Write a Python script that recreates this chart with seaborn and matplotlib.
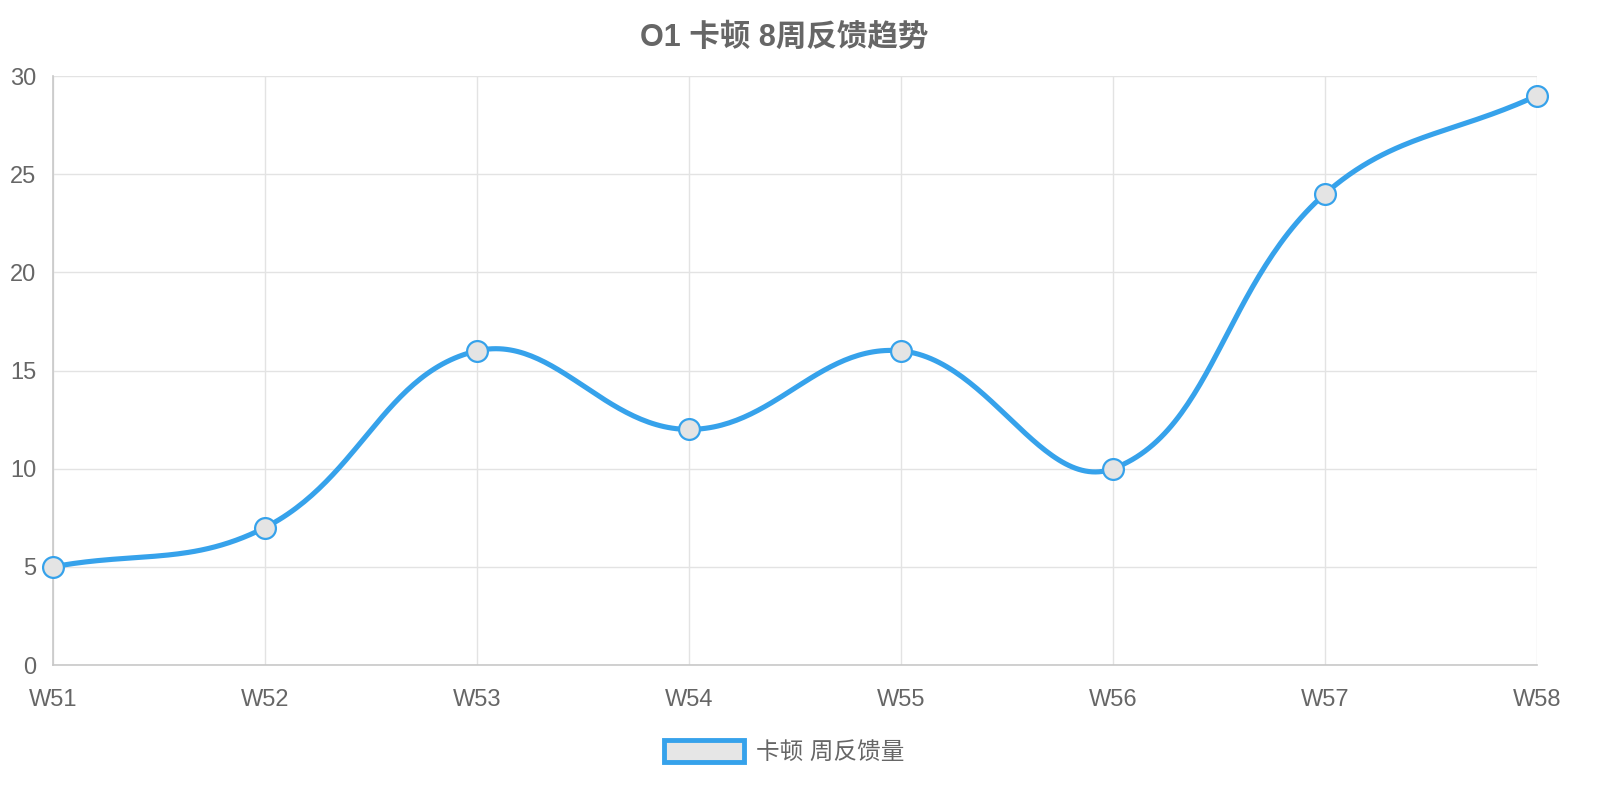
import numpy as np
import pandas as pd
import matplotlib
matplotlib.use("Agg")
import matplotlib.pyplot as plt
import seaborn as sns
from matplotlib.patches import Patch

# data
weeks = ["W51", "W52", "W53", "W54", "W55", "W56", "W57", "W58"]
feedback = [5, 7, 16, 12, 16, 10, 24, 29]
title = "O1 卡顿 8周反馈趋势"
series_label = "卡顿 周反馈量"

sns.set_theme(style="white")
fonts = ["Liberation Sans", "Noto Sans CJK SC", "DejaVu Sans"]
plt.rcParams["font.family"] = fonts

blue = "#36a2eb"
grey_text = "#666666"

fig = plt.figure(figsize=(16, 8), dpi=100)
ax = fig.add_axes([53 / 1600, 1 - 665 / 800, 1484 / 1600, 589 / 800])
ax.set_xlim(0, len(weeks) - 1)
ax.set_ylim(0, 30)

# smooth line like chart.js (tension 0.4), computed in pixel space
px_x = 1484 / (len(weeks) - 1)
px_y = 589 / 30
xs = np.arange(len(weeks)) * px_x
ys = np.array(feedback, dtype=float) * px_y
t = 0.4
cp_prev, cp_next = [], []
for i in range(len(xs)):
    p0 = np.array([xs[max(i - 1, 0)], ys[max(i - 1, 0)]])
    p1 = np.array([xs[i], ys[i]])
    p2 = np.array([xs[min(i + 1, len(xs) - 1)], ys[min(i + 1, len(xs) - 1)]])
    d01 = np.hypot(*(p1 - p0))
    d12 = np.hypot(*(p2 - p1))
    tot = d01 + d12
    s01 = d01 / tot if tot else 0
    s12 = d12 / tot if tot else 0
    cp_prev.append(p1 - t * s01 * (p2 - p0))
    cp_next.append(p1 + t * s12 * (p2 - p0))

curve = []
u = np.linspace(0, 1, 60)[:, None]
for i in range(len(xs) - 1):
    a = np.array([xs[i], ys[i]])
    b = cp_next[i]
    c = cp_prev[i + 1]
    d = np.array([xs[i + 1], ys[i + 1]])
    seg = (1 - u) ** 3 * a + 3 * (1 - u) ** 2 * u * b + 3 * (1 - u) * u ** 2 * c + u ** 3 * d
    curve.append(seg)
curve = np.vstack(curve)
curve_df = pd.DataFrame({"x": curve[:, 0] / px_x, "y": curve[:, 1] / px_y})

sns.lineplot(data=curve_df, x="x", y="y", sort=False, estimator=None,
             color=blue, linewidth=3.7, ax=ax, zorder=3)

pts = pd.DataFrame({"x": np.arange(len(weeks)), "y": feedback})
sns.scatterplot(data=pts, x="x", y="y", s=225, color="#e4e4e4",
                edgecolor=blue, linewidth=1.6, ax=ax, zorder=4, clip_on=False)

# grid and axes styling
ax.set_xticks(range(len(weeks)))
ax.set_xticklabels(weeks)
ax.set_yticks(range(0, 31, 5))
ax.grid(True, color="#e3e3e3", linewidth=1)
ax.set_axisbelow(True)
for side in ["top", "right"]:
    ax.spines[side].set_visible(False)
for side in ["left", "bottom"]:
    ax.spines[side].set_color("#c8c8c8")
    ax.spines[side].set_linewidth(1.2)
ax.tick_params(axis="both", length=7, width=1, color="#e3e3e3",
               labelcolor=grey_text, labelsize=17)
ax.tick_params(axis="x", pad=10)
ax.tick_params(axis="y", pad=5)
ax.set_xlabel("")
ax.set_ylabel("")

fig.text(0.49, 1 - 38 / 800, title, ha="center", va="center",
         fontsize=22, fontweight="bold", color=grey_text, family=fonts)

handle = Patch(facecolor="#e6e6e6", edgecolor=blue, linewidth=3.5)
fig.legend([handle], [series_label], loc="center",
           bbox_to_anchor=(0.49, 1 - 752 / 800), frameon=False,
           handlelength=3.4, handleheight=1.1, handletextpad=0.5,
           prop={"size": 17, "family": fonts}, labelcolor=grey_text)

fig.savefig("out.png", dpi=100)
